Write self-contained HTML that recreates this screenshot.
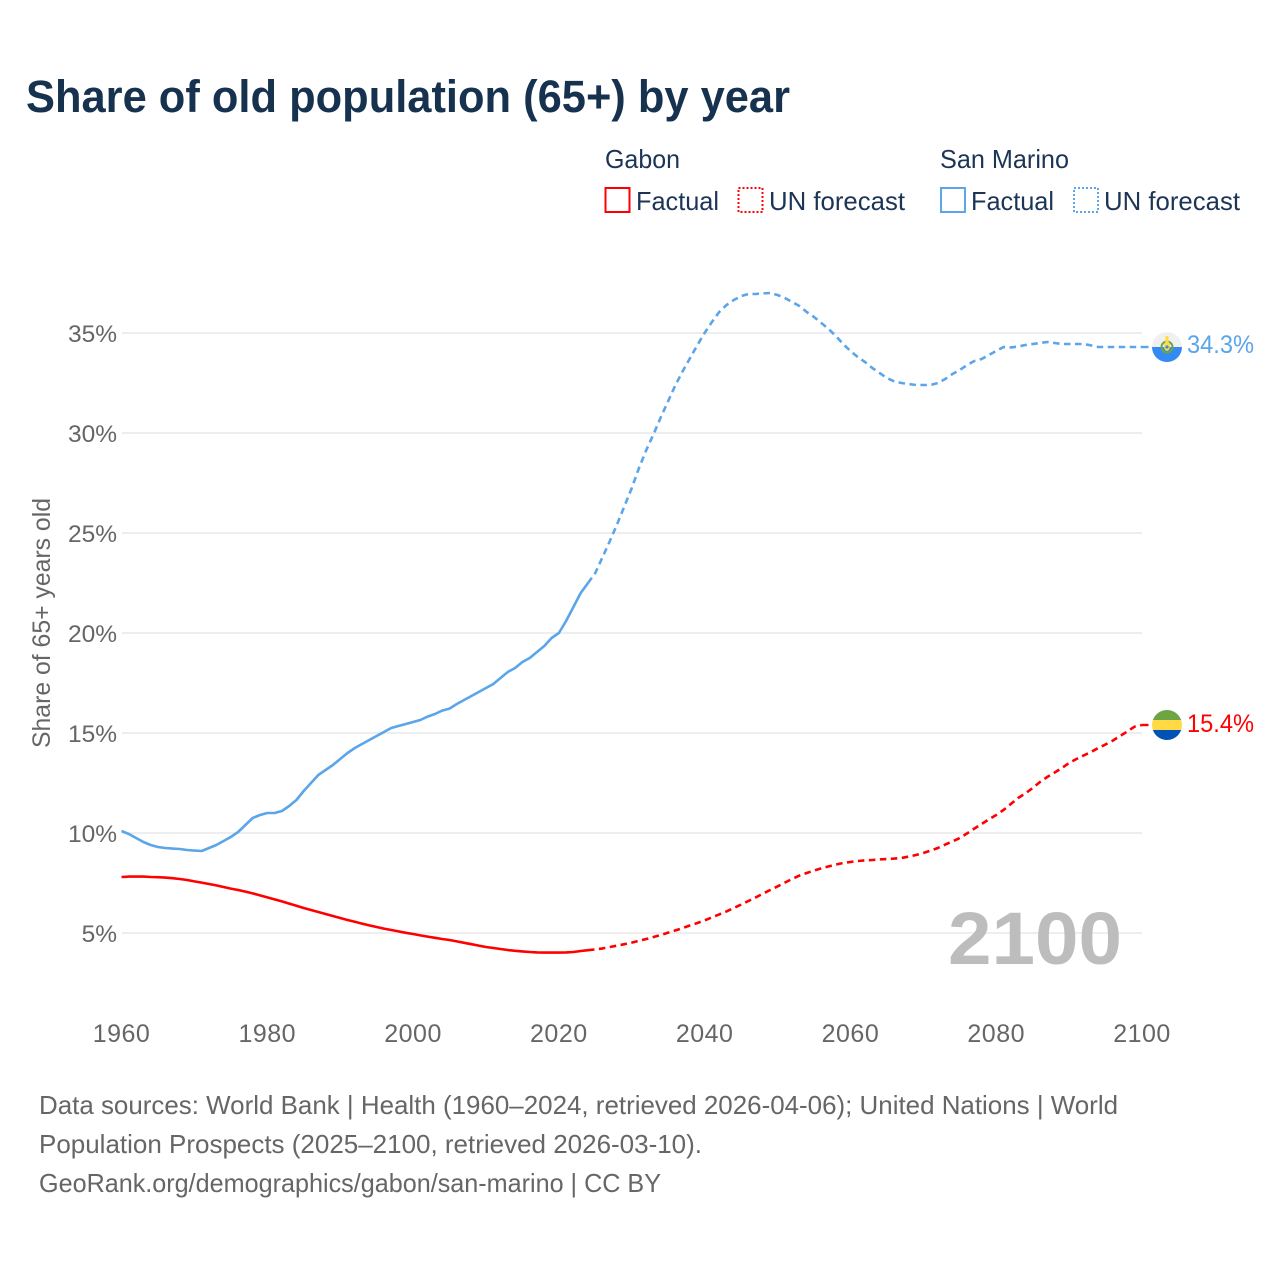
<!DOCTYPE html>
<html lang="en">
<head>
<meta charset="utf-8">
<title>Share of old population (65+) by year</title>
<style>
html,body{margin:0;padding:0;background:#fff;}
svg{display:block;font-family:"Liberation Sans",sans-serif;}
</style>
</head>
<body>
<svg id="chart" width="1280" height="1280" viewBox="0 0 1280 1280" xmlns="http://www.w3.org/2000/svg">
  <rect width="1280" height="1280" fill="#ffffff"/>
  <text x="26" y="112" font-size="45" font-weight="700" fill="#17324f" textLength="764" lengthAdjust="spacingAndGlyphs">Share of old population (65+) by year</text>

  <g font-size="26" fill="#1c3557">
    <text x="605" y="168" textLength="75" lengthAdjust="spacingAndGlyphs">Gabon</text>
    <rect x="605.5" y="188" width="24" height="24" fill="none" stroke="#ff0000" stroke-width="2"/>
    <text x="636" y="210" textLength="83" lengthAdjust="spacingAndGlyphs">Factual</text>
    <rect x="738.5" y="188" width="24" height="24" fill="none" stroke="#ff0000" stroke-width="2" stroke-dasharray="2 2"/>
    <text x="769" y="210" textLength="136" lengthAdjust="spacingAndGlyphs">UN forecast</text>
    <text x="940" y="168" textLength="129" lengthAdjust="spacingAndGlyphs">San Marino</text>
    <rect x="941" y="188" width="24" height="24" fill="none" stroke="#5ba5ea" stroke-width="2"/>
    <text x="971" y="210" textLength="83" lengthAdjust="spacingAndGlyphs">Factual</text>
    <rect x="1074" y="188" width="24" height="24" fill="none" stroke="#5ba5ea" stroke-width="2" stroke-dasharray="2 2"/>
    <text x="1104" y="210" textLength="136" lengthAdjust="spacingAndGlyphs">UN forecast</text>
  </g>

  <text transform="translate(50,748) rotate(-90)" font-size="25" fill="#666666" textLength="250" lengthAdjust="spacingAndGlyphs">Share of 65+ years old</text>

  <g id="grid"></g>
  <g id="yLabels"></g>
  <g id="xLabels"></g>

  <text x="948" y="964" font-size="74" font-weight="700" fill="#bdbdbd" textLength="174" lengthAdjust="spacingAndGlyphs">2100</text>

  <g id="series"></g>
  <g id="markers"></g>

  <g font-size="26" fill="#666666">
    <text x="39" y="1114" textLength="1079" lengthAdjust="spacingAndGlyphs">Data sources: World Bank | Health (1960–2024, retrieved 2026-04-06); United Nations | World</text>
    <text x="39" y="1153" textLength="663" lengthAdjust="spacingAndGlyphs">Population Prospects (2025–2100, retrieved 2026-03-10).</text>
    <text x="39" y="1192" textLength="622" lengthAdjust="spacingAndGlyphs">GeoRank.org/demographics/gabon/san-marino | CC BY</text>
  </g>
</svg>
<script>
const xTickYears = [1960, 1980, 2000, 2020, 2040, 2060, 2080, 2100];
const yTickValues = [5, 10, 15, 20, 25, 30, 35];
const factualStartYear = 1960;
const forecastStartYear = 2024;

const sanMarinoFactual = [
  10.1, 9.95, 9.75, 9.55, 9.4, 9.3, 9.25, 9.22, 9.2, 9.15,
  9.12, 9.1, 9.25, 9.4, 9.6, 9.8, 10.05, 10.4, 10.75, 10.9,
  11.0, 11.0, 11.1, 11.35, 11.65, 12.1, 12.5, 12.9, 13.15, 13.4,
  13.7, 14.0, 14.25, 14.45, 14.65, 14.85, 15.05, 15.25, 15.35, 15.45,
  15.55, 15.65, 15.82, 15.95, 16.12, 16.22, 16.45, 16.65, 16.85, 17.05,
  17.25, 17.45, 17.75, 18.05, 18.25, 18.55, 18.75, 19.05, 19.35, 19.75,
  20.0, 20.6, 21.3, 22.0, 22.5
];
const sanMarinoForecast = [
  22.5, 23.0, 23.8, 24.6, 25.45, 26.35, 27.25, 28.25, 29.15, 29.95,
  30.8, 31.6, 32.4, 33.1, 33.75, 34.4, 35.0, 35.55, 36.05, 36.4,
  36.65, 36.85, 36.95, 36.95, 36.98, 37.0, 36.9, 36.75, 36.55, 36.35,
  36.05, 35.8, 35.5, 35.2, 34.85, 34.45, 34.1, 33.8, 33.55, 33.25,
  33.0, 32.75, 32.58, 32.5, 32.45, 32.4, 32.4, 32.4, 32.5, 32.7,
  32.95, 33.15, 33.4, 33.6, 33.7, 33.9, 34.1, 34.3, 34.28, 34.32,
  34.4, 34.45, 34.5, 34.55, 34.5, 34.45, 34.45, 34.45, 34.45, 34.38,
  34.3, 34.3, 34.3, 34.3, 34.3, 34.3, 34.3
];
const gabonFactual = [
  7.8, 7.82, 7.82, 7.82, 7.8, 7.79, 7.77, 7.74, 7.7, 7.65,
  7.58, 7.52, 7.45, 7.38, 7.3, 7.22, 7.15, 7.07, 6.98, 6.88,
  6.78, 6.68, 6.58, 6.47, 6.36, 6.25, 6.15, 6.05, 5.95, 5.85,
  5.75, 5.65, 5.56, 5.47, 5.38, 5.3, 5.22, 5.15, 5.08, 5.01,
  4.95, 4.88, 4.82, 4.76, 4.7, 4.65, 4.58, 4.51, 4.44, 4.37,
  4.3, 4.25, 4.2, 4.15, 4.11, 4.08, 4.05, 4.03, 4.02, 4.02,
  4.02, 4.03, 4.05, 4.1, 4.14
];
const gabonForecast = [
  4.14, 4.18, 4.23, 4.3, 4.37, 4.44, 4.52, 4.61, 4.7, 4.8,
  4.9, 5.02, 5.13, 5.25, 5.38, 5.5, 5.63, 5.78, 5.93, 6.08,
  6.25, 6.42, 6.6, 6.78, 6.97, 7.15, 7.33, 7.52, 7.7, 7.87,
  8.0, 8.12, 8.23, 8.33, 8.42, 8.5, 8.55, 8.6, 8.63, 8.65,
  8.68, 8.7, 8.72, 8.75, 8.82, 8.9, 9.0, 9.12, 9.25, 9.42,
  9.58, 9.75, 9.98, 10.22, 10.45, 10.68, 10.9, 11.15, 11.45, 11.75,
  11.98, 12.25, 12.55, 12.8, 13.02, 13.25, 13.5, 13.7, 13.88, 14.05,
  14.25, 14.43, 14.62, 14.85, 15.08, 15.32, 15.4
];

const NS = 'http://www.w3.org/2000/svg';
const RED = '#ff0000';
const BLUE = '#5ba5ea';
const GREY = '#666666';
function xScale(year) { return 121.5 + (year - 1960) * (1142 - 121.5) / 140; }
function yScale(value) { return 1033 - value * 20; }
function make(tag, attrs) {
  const el = document.createElementNS(NS, tag);
  for (const k in attrs) el.setAttribute(k, attrs[k]);
  return el;
}

const grid = document.getElementById('grid');
const yLabels = document.getElementById('yLabels');
const xLabels = document.getElementById('xLabels');
yTickValues.forEach(function (v) {
  const line = make('line', { x1: 122, x2: 1142, y1: yScale(v), y2: yScale(v), stroke: '#e8e8e8', 'stroke-width': 1.5 });
  
  
  grid.appendChild(line);
  const label = make('text', { x: 117, y: yScale(v) + 9, 'text-anchor': 'end', 'font-size': 24.5, fill: GREY });
  
  
  label.textContent = v + '%';
  yLabels.appendChild(label);
});
xTickYears.forEach(function (year) {
  const label = make('text', { x: xScale(year), y: 1042, 'text-anchor': 'middle', 'font-size': 25, 'letter-spacing': 0.5, fill: GREY });
  
  
  label.textContent = year;
  xLabels.appendChild(label);
});

function points(values, startYear) {
  return values.map(function (v, i) {
    return xScale(startYear + i).toFixed(1) + ',' + yScale(v).toFixed(1);
  }).join(' ');
}
const seriesGroup = document.getElementById('series');
function drawLine(values, startYear, color, dashed, name) {
  const line = make('polyline', { points: points(values, startYear), fill: 'none', stroke: color, 'stroke-width': 2.6, 'stroke-linejoin': 'round' });
  if (dashed) line.setAttribute('stroke-dasharray', '6.5 4.5');
  
  
  seriesGroup.appendChild(line);
}
drawLine(sanMarinoFactual, factualStartYear, BLUE, false, 'san-marino-factual-line');
drawLine(sanMarinoForecast, forecastStartYear, BLUE, true, 'san-marino-forecast-line');
drawLine(gabonFactual, factualStartYear, RED, false, 'gabon-factual-line');
drawLine(gabonForecast, forecastStartYear, RED, true, 'gabon-forecast-line');

const markers = document.getElementById('markers');
const lastBlue = sanMarinoForecast[sanMarinoForecast.length - 1];
const lastRed = gabonForecast[gabonForecast.length - 1];
const FLAG_X = 1167;

function connector(value, color, name) {
  const line = make('line', { x1: 1142, x2: FLAG_X - 14, y1: yScale(value), y2: yScale(value), stroke: color, 'stroke-width': 2.4, 'stroke-dasharray': '6.5 4.5' });
  
  
  markers.appendChild(line);
}
connector(lastBlue, BLUE, 'san-marino-connector');
connector(lastRed, RED, 'gabon-connector');

function endLabel(value, labelY, color, name) {
  const t = make('text', { x: 1187, y: labelY, 'font-size': 25, fill: color, textLength: 67, lengthAdjust: 'spacingAndGlyphs' });
  
  
  t.textContent = value.toFixed(1) + '%';
  markers.appendChild(t);
}

const defs = make('defs', {});
const clipA = make('clipPath', { id: 'clipSM' });
clipA.appendChild(make('circle', { cx: FLAG_X, cy: yScale(lastBlue), r: 15 }));
const clipB = make('clipPath', { id: 'clipGA' });
clipB.appendChild(make('circle', { cx: FLAG_X, cy: yScale(lastRed), r: 15 }));
defs.appendChild(clipA);
defs.appendChild(clipB);
markers.appendChild(defs);

const smY = yScale(lastBlue);
const sm = make('g', { 'clip-path': 'url(#clipSM)' });


sm.appendChild(make('rect', { x: FLAG_X - 15, y: smY - 15, width: 30, height: 15, fill: '#f0f0f0' }));
sm.appendChild(make('rect', { x: FLAG_X - 15, y: smY, width: 30, height: 15, fill: '#338af3' }));
sm.appendChild(make('circle', { cx: FLAG_X, cy: smY, r: 5.5, fill: 'none', stroke: '#6da544', 'stroke-width': 2 }));
sm.appendChild(make('ellipse', { cx: FLAG_X, cy: smY - 1, rx: 3, ry: 5, fill: '#ffda44' }));
sm.appendChild(make('rect', { x: FLAG_X - 1.5, y: smY - 11, width: 3, height: 6, fill: '#ffda44' }));
sm.appendChild(make('circle', { cx: FLAG_X, cy: smY, r: 1.6, fill: '#338af3' }));
markers.appendChild(sm);

const gaY = yScale(lastRed);
const ga = make('g', { 'clip-path': 'url(#clipGA)' });


ga.appendChild(make('rect', { x: FLAG_X - 15, y: gaY - 15, width: 30, height: 10, fill: '#6da544' }));
ga.appendChild(make('rect', { x: FLAG_X - 15, y: gaY - 5, width: 30, height: 10, fill: '#ffda44' }));
ga.appendChild(make('rect', { x: FLAG_X - 15, y: gaY + 5, width: 30, height: 10, fill: '#0052b4' }));
markers.appendChild(ga);

endLabel(lastBlue, smY + 6, BLUE, 'san-marino-end-label');
endLabel(lastRed, gaY + 7, RED, 'gabon-end-label');
</script>
</body>
</html>
